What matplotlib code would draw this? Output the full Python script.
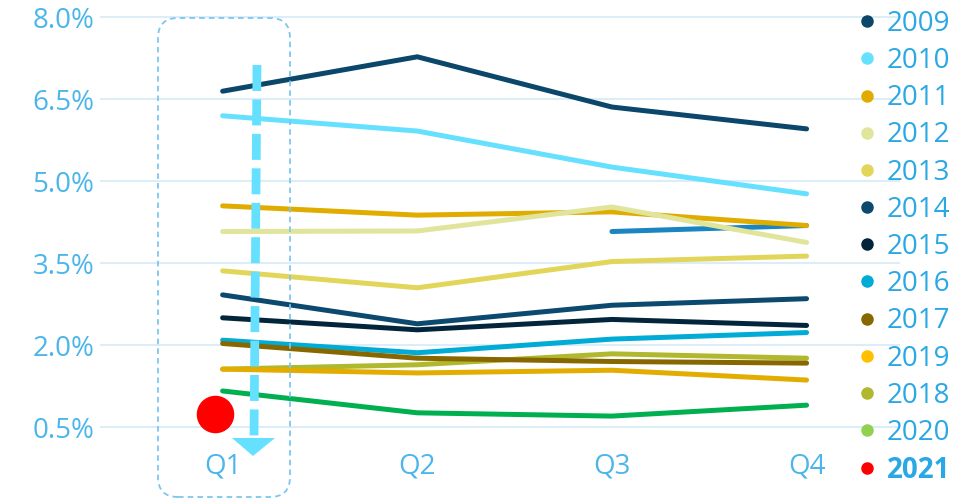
import matplotlib
matplotlib.use("Agg")
from matplotlib import pyplot as plt
from matplotlib.lines import Line2D
from matplotlib.patches import FancyBboxPatch, Polygon
from matplotlib.transforms import IdentityTransform, ScaledTranslation
import numpy as np

plt.rcParams['font.family'] = ['Open Sans', 'DejaVu Sans']
plt.rcParams['lines.scale_dashes'] = False

quarters = ["Q1", "Q2", "Q3", "Q4"]
yticks = [0.5, 2.0, 3.5, 5.0, 6.5, 8.0]

# rate per quarter, one list per year
y2009 = [6.65, 7.28, 6.36, 5.96]
y2010 = [6.20, 5.92, 5.26, 4.77]
y2011 = [4.55, 4.38, 4.44, 4.19]
y2012 = [4.08, 4.09, 4.53, 3.88]
y2013 = [3.36, 3.05, 3.53, 3.63]
y2014 = [2.92, 2.39, 2.73, 2.85]
y2015 = [2.50, 2.28, 2.47, 2.36]
y2016 = [2.09, 1.86, 2.11, 2.23]
y2017 = [2.03, 1.76, 1.70, 1.67]
y2018 = [1.56, 1.64, 1.84, 1.76]
y2019 = [1.56, 1.49, 1.54, 1.36]
y2020 = [1.16, 0.76, 0.70, 0.90]
y2021 = [0.74]
extra = [np.nan, np.nan, 4.08, 4.19]  # short unlabeled blue segment

series = [
    ("2009", y2009, "#0b466b", "#0b466b"),
    ("2010", y2010, "#66e0ff", "#66e0ff"),
    ("2011", y2011, "#e1ac00", "#e1ac00"),
    ("2012", y2012, "#e1e59c", "#e1e59c"),
    ("2013", y2013, "#e2d65a", "#e2d65a"),
    ("2014", y2014, "#0b4a6e", "#0b4a6e"),
    ("2015", y2015, "#03253c", "#03253c"),
    ("2016", y2016, "#00acd6", "#00acd6"),
    ("2017", y2017, "#876800", "#876800"),
    ("2019", y2019, "#e3ad00", "#ffc000"),
    ("2018", y2018, "#b0b82e", "#b0b82e"),
    ("2020", y2020, "#00b050", "#92d050"),
]

fig = plt.figure(figsize=(9.67, 5.03), dpi=100)
ax = fig.add_axes([100 / 967, 53 / 503, 800 / 967, 440 / 503])

x = np.arange(len(quarters))
ax.plot(x, extra, color="#1a85c0", lw=3.6, solid_capstyle="round", zorder=2)
order = {"2018": 2.5}
for name, vals, col, _ in series:
    ax.plot(x, vals, color=col, lw=3.6, solid_capstyle="round",
            solid_joinstyle="round", zorder=order.get(name, 3))
# the 2021 dot sits a little left of the Q1 line
shift = ScaledTranslation(-8 / 100, 0, fig.dpi_scale_trans)
ax.plot([0], y2021, "o", color="#ff0000", markersize=26, zorder=5,
        transform=ax.transData + shift)

ax.set_xlim(-0.63, 3.48)
ax.set_ylim(0.079, 8.137)
ax.set_yticks(yticks)
ax.set_yticklabels([f"{v:.1f}%" for v in yticks])
ax.set_xticks(x)
ax.set_xticklabels(quarters)
ax.tick_params(length=0, labelsize=20, labelcolor="#4cb6ea")
ax.tick_params(axis="y", pad=4)
ax.tick_params(axis="x", pad=2)
ax.grid(axis="y", color="#dcedf8", lw=1.5)
ax.set_axisbelow(True)
for s in ax.spines.values():
    s.set_visible(False)

# legend
handles = [Line2D([], [], ls="", marker="o", markersize=8, color=lc)
           for _, _, _, lc in series]
labels = [n for n, _, _, _ in series]
handles.append(Line2D([], [], ls="", marker="o", markersize=8, color="#ff0000"))
labels.append("2021")
leg = fig.legend(handles, labels, loc="upper left", bbox_to_anchor=(859 / 967, 1 - 10 / 503),
                 frameon=False, fontsize=20, handlelength=0.6, handletextpad=0.4,
                 labelspacing=0.33, borderaxespad=0, borderpad=0)
for t in leg.get_texts():
    t.set_color("#2aa8e4")
leg.get_texts()[-1].set_fontweight("bold")

# dashed rounded box around Q1
H = 503
box = FancyBboxPatch((158, H - 497), 132, 479, boxstyle="round,pad=0,rounding_size=20",
                     transform=IdentityTransform(), fill=False, ec="#7ec6ef",
                     lw=1.3, ls=(0, (4, 3)))
fig.add_artist(box)

# dashed downward arrow
arrow = Line2D([257, 254], [H - 65, H - 438], transform=IdentityTransform(),
               color="#66e0ff", lw=6.3, dashes=(18.7, 6.1), solid_capstyle="butt",
               dash_capstyle="butt")
fig.add_artist(arrow)
head = Polygon([[232, H - 438], [275, H - 438], [253, H - 456]], closed=True,
               transform=IdentityTransform(), color="#66e0ff", lw=0)
fig.add_artist(head)

fig.savefig("out.png", dpi=100)
